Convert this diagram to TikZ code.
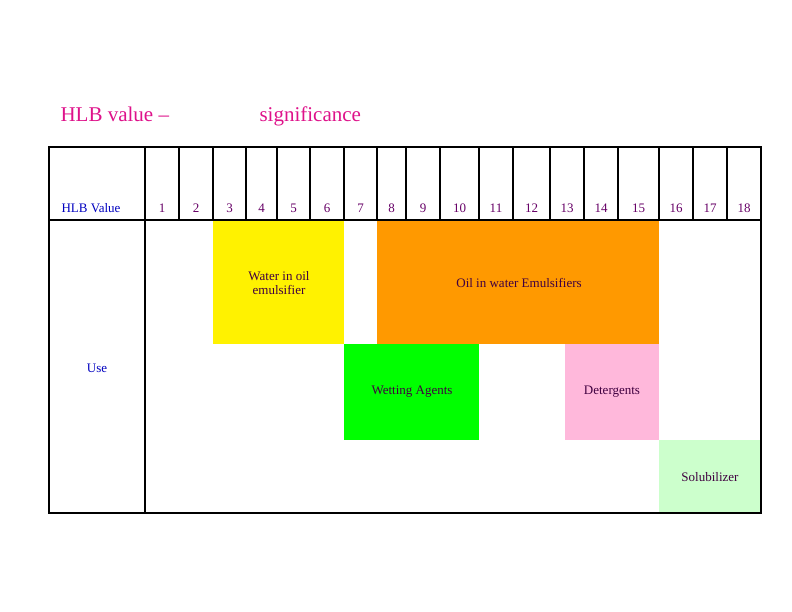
\documentclass[tikz,border=0pt]{standalone}
\usepackage{fontspec}
\setmainfont{Liberation Serif}
\begin{document}
\begin{tikzpicture}[x=1pt,y=-1pt,
  title/.style={text=magenta!85!violet, font=\fontsize{21}{24}\selectfont, anchor=base west},
  num/.style={text=violet!80!black, font=\fontsize{13}{15}\selectfont, anchor=base},
  lab/.style={text=blue!75!black, font=\fontsize{13}{15}\selectfont, anchor=base},
  box/.style={draw=none},
  txt/.style={text=violet!50!black, font=\fontsize{13}{14}\selectfont, align=center, inner sep=0pt}]
\useasboundingbox (0,0) rectangle (792,612);
\node[title] (t1) at (57,122) {HLB value --};
\node[title] (t2) at (256,122) {significance};
% coloured areas
\fill[yellow] (213,220) rectangle (344,344);
\fill[orange!80!yellow] (377,220) rectangle (659,344);
\fill[green] (344,344) rectangle (479,440);
\fill[pink!80!magenta!70] (565,344) rectangle (659,440);
\fill[green!20] (659,440) rectangle (761,513);
% grid
\draw[line width=1.4pt] (49,147) rectangle (761,513);
\draw[line width=1.4pt] (49,220) -- (761,220);
\draw[line width=1.4pt] (145,147) -- (145,513);
\foreach \x in {179,213,246,277,310,344,377,406,440,479,513,550,584,618,659,693,727}
  \draw[line width=1.4pt] (\x,147) -- (\x,220);
% header texts
\node[lab] (hv) at (91,213) {HLB Value};
\foreach \a/\b/\n in {145/179/1,179/213/2,213/246/3,246/277/4,277/310/5,310/344/6,344/377/7,377/406/8,406/440/9,440/479/10,479/513/11,513/550/12,550/584/13,584/618/14,618/659/15,659/693/16,693/727/17,727/761/18}
  \node[num] (n\n) at ({(\a+\b)/2},213) {\n};
\node[lab] (use) at (97,372) {Use};
\node[txt] (w) at (279,283) {Water in oil\\emulsifier};
\node[txt] (o) at (519,283) {Oil in water Emulsifiers};
\node[txt] (we) at (412,392) {Wetting Agents};
\node[txt] (d) at (612,392) {Detergents};
\node[txt] (s) at (710,477) {Solubilizer};
\end{tikzpicture}
\end{document}
